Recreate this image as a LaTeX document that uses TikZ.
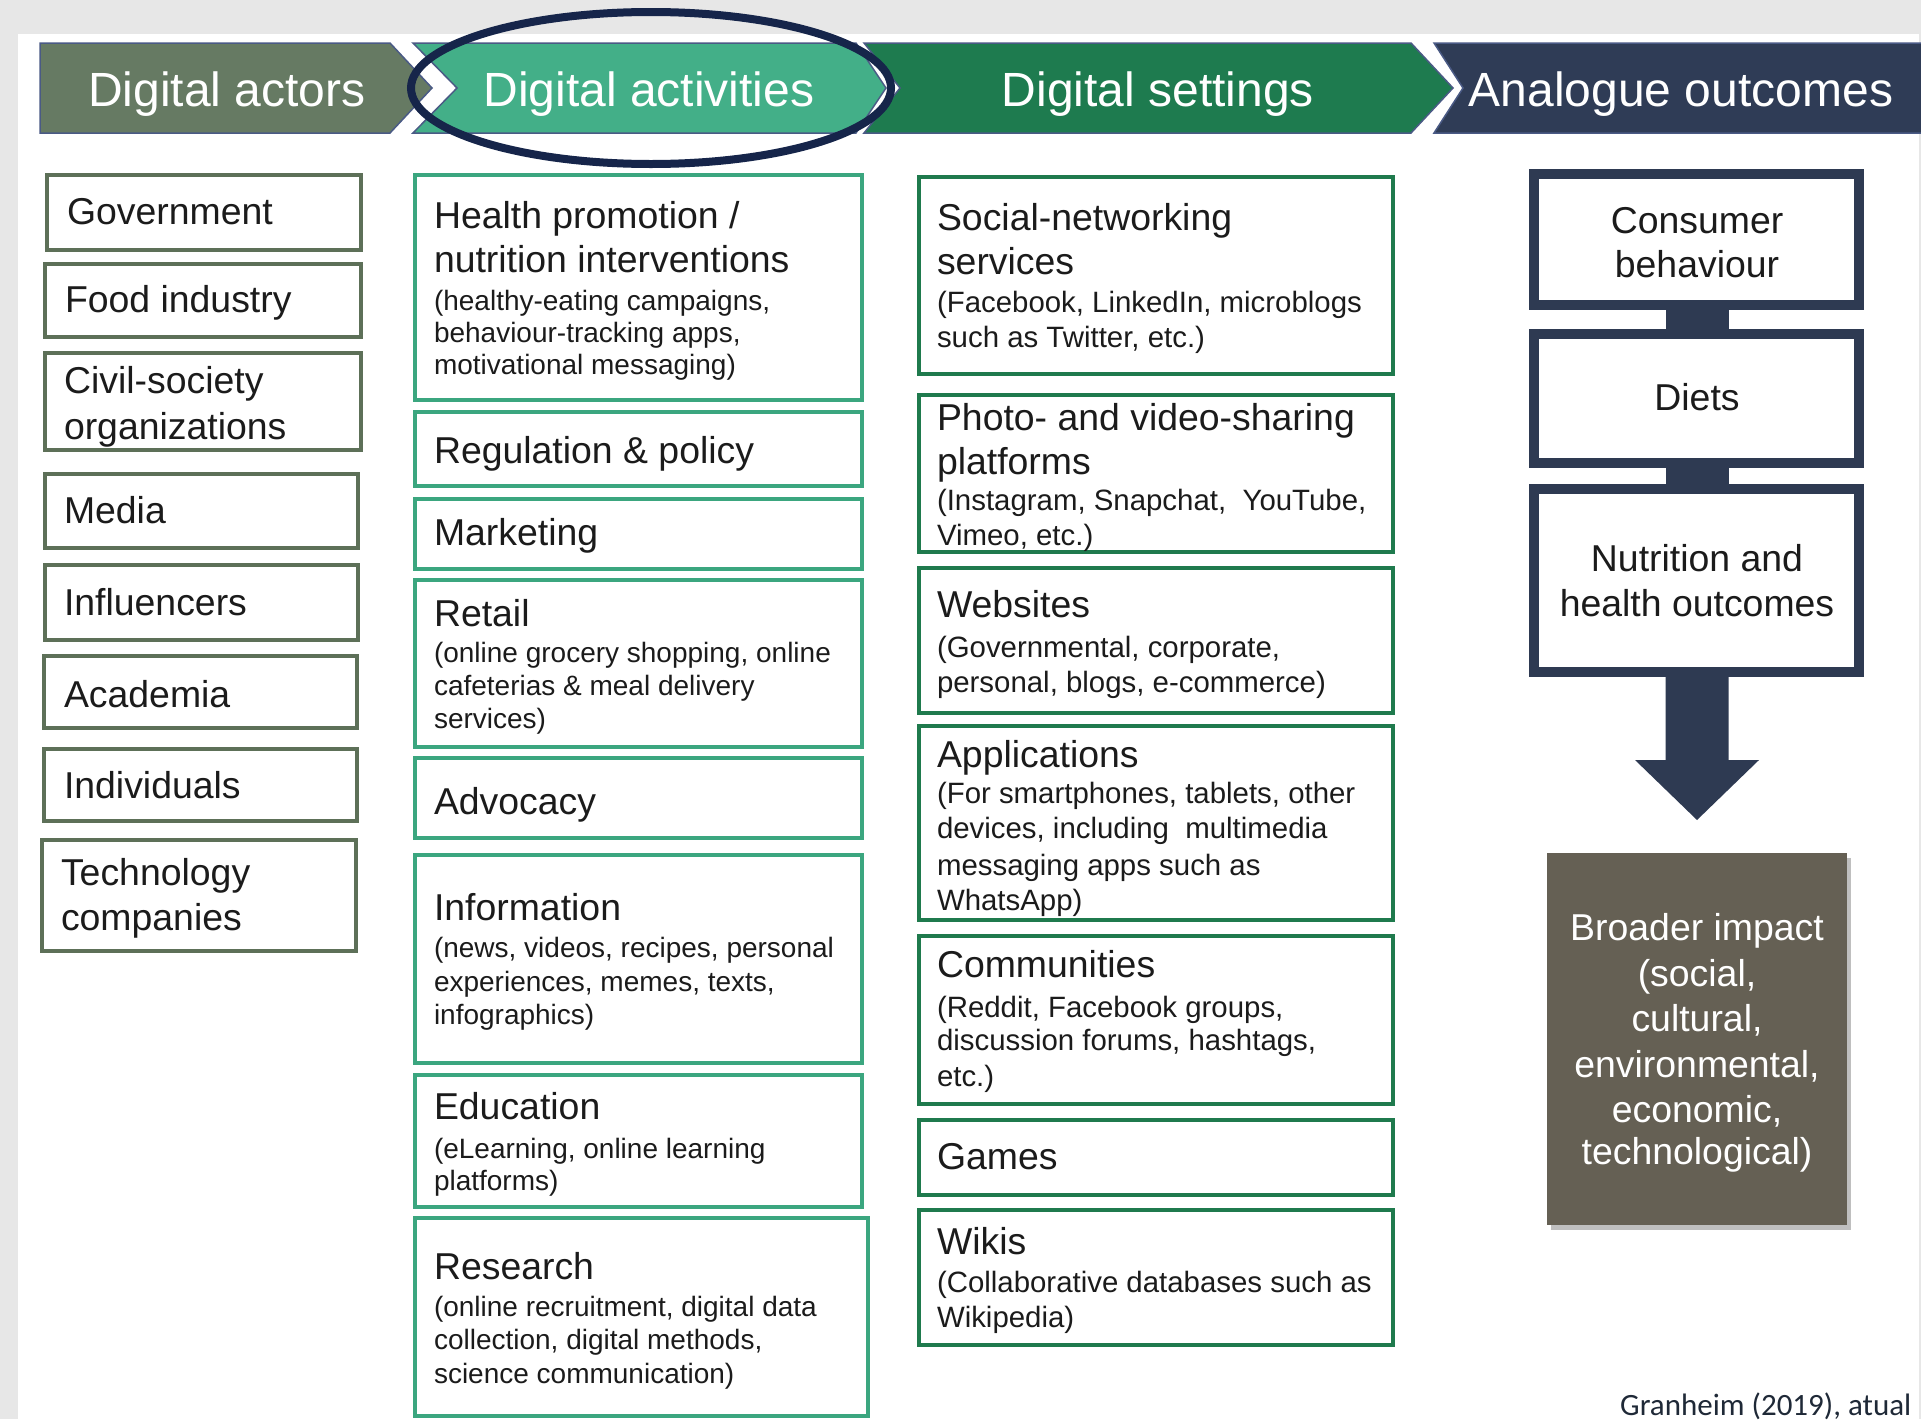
\documentclass[tikz,border=0pt]{standalone}
\usepackage{fontspec}
\setmainfont{Liberation Sans}
\newfontfamily\credfont{Carlito}
\usetikzlibrary{fit,shapes.geometric}
\definecolor{bggrey}{HTML}{E7E7E7}
\definecolor{actfill}{HTML}{667A63}
\definecolor{actline}{HTML}{5D7058}
\definecolor{actvfill}{HTML}{43AF88}
\definecolor{actvline}{HTML}{3BA67F}
\definecolor{setfill}{HTML}{1E7B4F}
\definecolor{setline}{HTML}{1F7A4D}
\definecolor{anafill}{HTML}{2F3C56}
\definecolor{analine}{HTML}{2E3A52}
\definecolor{ovalc}{HTML}{16254A}
\definecolor{broadfill}{HTML}{656054}
\definecolor{txt}{HTML}{1B1B1B}
\definecolor{hdredge}{HTML}{4A5A85}
\definecolor{credc}{HTML}{1F2937}
\newcommand\myfs[2]{\fontsize{#1}{#2}\selectfont}
\newcommand\Bx[6]{\coordinate (#2-nw) at (#3,#4); \coordinate (#2-se) at (#5,#6); \node[#1, fit=(#2-nw)(#2-se)] (#2) {};}
\newcommand\Tx[5]{\node[#1] (#2) at (#3,#4) {#5};}
\tikzset{
  boxbase/.style={rectangle, inner sep=0, outer sep=0, fill=white},
  bxA/.style={boxbase, draw=actline, line width=4},
  bxB/.style={boxbase, draw=actvline, line width=4},
  bxC/.style={boxbase, draw=setline, line width=4},
  bxD/.style={boxbase, draw=analine, line width=10},
  bxE/.style={rectangle, inner sep=0, outer sep=0, fill=broadfill},
  chev/.style={draw=hdredge, line width=1.5},
  tA/.style={anchor=base west, inner sep=0, outer sep=0, text=txt, font=\myfs{37.4}{44}},
  sB/.style={anchor=base west, inner sep=0, outer sep=0, text=txt, font=\myfs{28}{33}},
  sC/.style={anchor=base west, inner sep=0, outer sep=0, text=txt, font=\myfs{29.4}{35}},
  tD/.style={anchor=base, inner sep=0, outer sep=0, text=txt, font=\myfs{37.4}{44}},
  tW/.style={anchor=base, inner sep=0, outer sep=0, text=white, font=\myfs{37.4}{44}},
  hdr/.style={anchor=base, inner sep=0, outer sep=0, text=white, font=\myfs{48}{56}},
}
\begin{document}
\begin{tikzpicture}[x=1pt,y=-1pt]
\useasboundingbox (0,0) rectangle (1921,1419);
\fill[bggrey] (0,0) rectangle (1921,1419);
\fill[white] (18,34) rectangle (1919,1419);

% header chevrons
\fill[actfill] (40,43) -- (390,43) -- (432,88) -- (390,133) -- (40,133) -- cycle;
\draw[chev] (40,43) -- (390,43) -- (432,88) -- (390,133) -- (40,133) -- cycle;
\fill[actvfill] (413,43) -- (856,43) -- (886,88) -- (856,133) -- (413,133) -- (457,88) -- cycle;
\draw[chev] (413,43) -- (856,43) -- (886,88) -- (856,133) -- (413,133) -- (457,88) -- cycle;
\fill[setfill] (864,43) -- (1411,43) -- (1453,88) -- (1411,133) -- (864,133) -- (900,88) -- cycle;
\draw[chev] (864,43) -- (1411,43) -- (1453,88) -- (1411,133) -- (864,133) -- (900,88) -- cycle;
\fill[anafill] (1434,43) -- (1921,43) -- (1921,133) -- (1434,133) -- (1463,88) -- cycle;
\draw[chev] (1921,43) -- (1434,43) -- (1463,88) -- (1434,133) -- (1921,133);

\Tx{hdr}{hd1}{227}{106}{Digital actors}
\Tx{hdr}{hd2}{649}{106}{Digital activities}
\Tx{hdr}{hd3}{1158}{106}{Digital settings}
\Tx{hdr}{hd4}{1681}{106}{Analogue outcomes}

\node[draw=ovalc, line width=8, ellipse, inner sep=0, minimum width=480, minimum height=152] (oval) at (651,88) {};

% column 1: digital actors
\Bx{bxA}{gov}{47}{175}{361}{250}
\Bx{bxA}{food}{45}{264}{361}{337}
\Bx{bxA}{civil}{45}{353}{361}{450}
\Bx{bxA}{media}{45}{474}{358}{548}
\Bx{bxA}{infl}{45}{565}{358}{640}
\Bx{bxA}{acad}{44}{656}{357}{728}
\Bx{bxA}{indiv}{44}{749}{357}{821}
\Bx{bxA}{tech}{42}{840}{356}{951}
\Tx{tA}{g1}{67}{224}{Government}
\Tx{tA}{g2}{65}{312}{Food industry}
\Tx{tA}{g3a}{64}{393}{Civil-society}
\Tx{tA}{g3b}{64}{439}{organizations}
\Tx{tA}{g4}{64}{523}{Media}
\Tx{tA}{g5}{64}{615}{Influencers}
\Tx{tA}{g6}{64}{707}{Academia}
\Tx{tA}{g7}{64}{798}{Individuals}
\Tx{tA}{g8a}{61}{885}{Technology}
\Tx{tA}{g8b}{61}{930}{companies}

% column 2: digital activities
\Bx{bxB}{health}{415}{175}{862}{400}
\Bx{bxB}{reg}{415}{412}{862}{486}
\Bx{bxB}{mkt}{415}{499}{862}{569}
\Bx{bxB}{retail}{415}{580}{862}{747}
\Bx{bxB}{adv}{415}{758}{862}{838}
\Bx{bxB}{info}{415}{855}{862}{1063}
\Bx{bxB}{edu}{415}{1075}{862}{1207}
\Bx{bxB}{res}{415}{1218}{868}{1416}
\Tx{tA}{h1a}{434}{228}{Health promotion /}
\Tx{tA}{h1b}{434}{272}{nutrition interventions}
\Tx{sB}{h1c}{434}{310}{(healthy-eating campaigns,}
\Tx{sB}{h1d}{434}{342}{behaviour-tracking apps,}
\Tx{sB}{h1e}{434}{374}{motivational messaging)}
\Tx{tA}{h2}{434}{463}{Regulation \& policy}
\Tx{tA}{h3}{434}{545}{Marketing}
\Tx{tA}{h4a}{434}{626}{Retail}
\Tx{sB}{h4b}{434}{662}{(online grocery shopping, online}
\Tx{sB}{h4c}{434}{695}{cafeterias \& meal delivery}
\Tx{sB}{h4d}{434}{728}{services)}
\Tx{tA}{h5}{434}{814}{Advocacy}
\Tx{tA}{h6a}{434}{920}{Information}
\Tx{sB}{h6b}{434}{957}{(news, videos, recipes, personal}
\Tx{sB}{h6c}{434}{991}{experiences, memes, texts,}
\Tx{sB}{h6d}{434}{1024}{infographics)}
\Tx{tA}{h7a}{434}{1119}{Education}
\Tx{sB}{h7b}{434}{1158}{(eLearning, online learning}
\Tx{sB}{h7c}{434}{1190}{platforms)}
\Tx{tA}{h8a}{434}{1279}{Research}
\Tx{sB}{h8b}{434}{1316}{(online recruitment, digital data}
\Tx{sB}{h8c}{434}{1349}{collection, digital methods,}
\Tx{sB}{h8d}{434}{1383}{science communication)}

% column 3: digital settings
\Bx{bxC}{social}{919}{177}{1393}{374}
\Bx{bxC}{photo}{919}{395}{1393}{552}
\Bx{bxC}{web}{919}{568}{1393}{713}
\Bx{bxC}{apps}{919}{726}{1393}{920}
\Bx{bxC}{comm}{919}{936}{1393}{1104}
\Bx{bxC}{games}{919}{1120}{1393}{1195}
\Bx{bxC}{wikis}{919}{1210}{1393}{1345}
\Tx{tA}{s1a}{937}{230}{Social-networking}
\Tx{tA}{s1b}{937}{274}{services}
\Tx{sC}{s1c}{937}{312}{(Facebook, LinkedIn, microblogs}
\Tx{sC}{s1d}{937}{347}{such as Twitter, etc.)}
\Tx{tA}{s2a}{937}{430}{Photo- and video-sharing}
\Tx{tA}{s2b}{937}{474}{platforms}
\Tx{sC}{s2c}{937}{510}{(Instagram, Snapchat,\ \ YouTube,}
\Tx{sC}{s2d}{937}{545}{Vimeo, etc.)}
\Tx{tA}{s3a}{937}{617}{Websites}
\Tx{sC}{s3b}{937}{657}{(Governmental, corporate,}
\Tx{sC}{s3c}{937}{692}{personal, blogs, e-commerce)}
\Tx{tA}{s4a}{937}{767}{Applications}
\Tx{sC}{s4b}{937}{803}{(For smartphones, tablets, other}
\Tx{sC}{s4c}{937}{838}{devices, including\ \ multimedia}
\Tx{sC}{s4d}{937}{875}{messaging apps such as}
\Tx{sC}{s4e}{937}{910}{WhatsApp)}
\Tx{tA}{s5a}{937}{977}{Communities}
\Tx{sC}{s5b}{937}{1017}{(Reddit, Facebook groups,}
\Tx{sC}{s5c}{937}{1050}{discussion forums, hashtags,}
\Tx{sC}{s5d}{937}{1086}{etc.)}
\Tx{tA}{s6}{937}{1169}{Games}
\Tx{tA}{s7a}{937}{1254}{Wikis}
\Tx{sC}{s7b}{937}{1292}{(Collaborative databases such as}
\Tx{sC}{s7c}{937}{1327}{Wikipedia)}

% column 4: analogue outcomes
\fill[analine] (1666,305) rectangle (1729,334);
\fill[analine] (1666,463) rectangle (1729,489);
\Bx{bxD}{cons}{1534}{174}{1859}{305}
\Bx{bxD}{diets}{1534}{334}{1859}{463}
\Bx{bxD}{nutr}{1534}{489}{1859}{672}
\coordinate (tip) at (1697,820);
\fill[analine] ([xshift=-31]nutr.south) -- ([xshift=-31]nutr.south |- 0,760) -- (1635,760) -- (tip) -- (1759,760) -- ([xshift=32]nutr.south |- 0,760) -- ([xshift=32]nutr.south) -- cycle;
\Tx{tD}{o1a}{1697}{233}{Consumer}
\Tx{tD}{o1b}{1697}{277}{behaviour}
\Tx{tD}{o2}{1697}{410}{Diets}
\Tx{tD}{o3a}{1697}{571}{Nutrition and}
\Tx{tD}{o3b}{1697}{616}{health outcomes}

\fill[black, opacity=0.25] (1551,858) rectangle (1851,1230);
\Bx{bxE}{broad}{1547}{853}{1847}{1225}
\Tx{tW}{b1}{1697}{940}{Broader impact}
\Tx{tW}{b2}{1697}{986}{(social,}
\Tx{tW}{b3}{1697}{1031}{cultural,}
\Tx{tW}{b4}{1697}{1077}{environmental,}
\Tx{tW}{b5}{1697}{1122}{economic,}
\Tx{tW}{b6}{1697}{1164}{technological)}

\node[anchor=base west, inner sep=0, text=credc, font=\credfont\myfs{31}{36}] (cred) at (1620,1415) {Granheim (2019), atual};
\end{tikzpicture}
\end{document}
